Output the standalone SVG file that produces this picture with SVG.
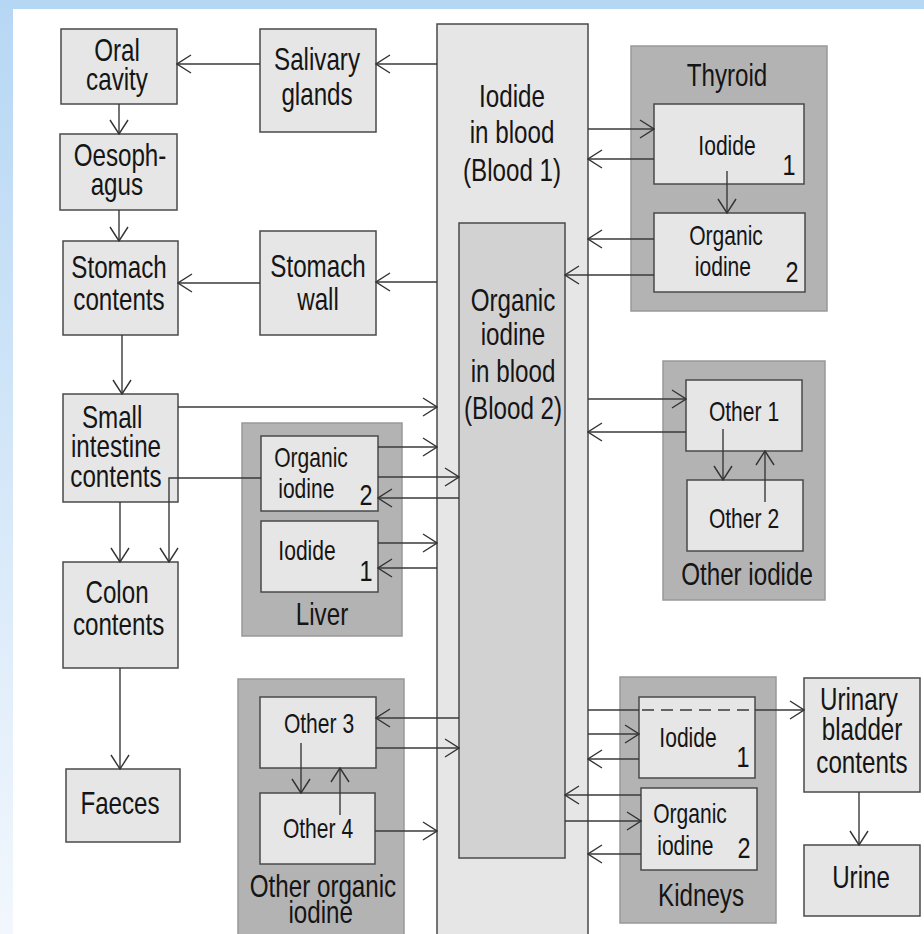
<svg xmlns="http://www.w3.org/2000/svg" width="924" height="934" viewBox="0 0 924 934">
<defs>
<linearGradient id="bg" x1="0" y1="0" x2="0" y2="1">
<stop offset="0" stop-color="#b6d7f4"/>
<stop offset="1" stop-color="#f2f7fd"/>
</linearGradient>
<marker id="a" viewBox="0 0 16 20" refX="15" refY="10" markerWidth="16" markerHeight="20" markerUnits="userSpaceOnUse" orient="auto">
<path d="M1,1 L15,10 L1,19" fill="none" stroke="#333" stroke-width="1.4"/>
</marker>
<style>
.box{fill:#e6e6e6;stroke:#4a4a4a;stroke-width:1.5}
.grp{fill:#b3b3b3;stroke:#999;stroke-width:1.5}
.b2{fill:#d2d2d2;stroke:#4a4a4a;stroke-width:1.5}
text{font-family:"Liberation Sans",Arial,sans-serif;fill:#151515;text-anchor:middle}
.L{font-size:31px}
.M{font-size:27px}
.N{font-size:30px}
.c path{fill:none;stroke:#3a3a3a;stroke-width:1.4}
.c .ar{marker-end:url(#a)}
</style>
</defs>
<rect x="0" y="0" width="924" height="934" fill="url(#bg)"/>
<rect x="13" y="9" width="911" height="925" fill="#fff"/>

<g id="oral-cavity">
<rect class="box" x="61" y="29" width="116" height="75"/>
<text class="L" transform="translate(117,61) scale(.78,1)"><tspan x="0">Oral</tspan><tspan x="0" dy="29">cavity</tspan></text>
</g>
<g id="salivary-glands">
<rect class="box" x="260" y="29" width="116" height="103"/>
<text class="L" transform="translate(317,70) scale(.78,1)"><tspan x="0">Salivary</tspan><tspan x="0" dy="35">glands</tspan></text>
</g>
<g id="oesophagus">
<rect class="box" x="60" y="134" width="117" height="76"/>
<text class="L" transform="translate(120,166) scale(.78,1)"><tspan x="0">Oesoph-</tspan><tspan x="-4" dy="29">agus</tspan></text>
</g>
<g id="stomach-contents">
<rect class="box" x="63" y="241" width="115" height="94"/>
<text class="L" transform="translate(119,278) scale(.78,1)"><tspan x="0">Stomach</tspan><tspan x="0" dy="32">contents</tspan></text>
</g>
<g id="stomach-wall">
<rect class="box" x="260" y="231" width="116" height="104"/>
<text class="L" transform="translate(318,277) scale(.78,1)"><tspan x="0">Stomach</tspan><tspan x="0" dy="33">wall</tspan></text>
</g>
<g id="small-intestine">
<rect class="box" x="63" y="394" width="115" height="108"/>
<text class="L" transform="translate(116,428) scale(.78,1)"><tspan x="-5">Small</tspan><tspan x="0" dy="29">intestine</tspan><tspan x="0" dy="30">contents</tspan></text>
</g>
<g id="colon-contents">
<rect class="box" x="63" y="562" width="115" height="106"/>
<text class="L" transform="translate(117,603) scale(.78,1)"><tspan x="0">Colon</tspan><tspan x="2" dy="32">contents</tspan></text>
</g>
<g id="faeces">
<rect class="box" x="66" y="769" width="114" height="73"/>
<text class="L" transform="translate(120,814) scale(.78,1)">Faeces</text>
</g>

<g id="blood-1">
<rect class="box" x="437" y="24" width="151" height="930"/>
<text class="L" transform="translate(512,107) scale(.78,1)"><tspan x="0">Iodide</tspan><tspan x="0" dy="36">in blood</tspan><tspan x="0" dy="38">(Blood 1)</tspan></text>
</g>
<g id="blood-2">
<rect class="b2" x="459" y="223" width="106" height="635"/>
<text class="L" transform="translate(513,311) scale(.78,1)"><tspan x="0">Organic</tspan><tspan x="0" dy="34">iodine</tspan><tspan x="0" dy="37">in blood</tspan><tspan x="0" dy="37">(Blood 2)</tspan></text>
</g>

<g id="thyroid">
<rect class="grp" x="631" y="46" width="196" height="265"/>
<text class="L" transform="translate(727,86) scale(.78,1)">Thyroid</text>
<g id="thyroid-iodide">
<rect class="box" x="654" y="104" width="150" height="80"/>
<text class="M" transform="translate(727,155) scale(.78,1)">Iodide</text>
<text class="N" transform="translate(789,175) scale(.78,1)">1</text>
</g>
<g id="thyroid-organic">
<rect class="box" x="654" y="213" width="151" height="79"/>
<text class="M" transform="translate(726,245) scale(.78,1)"><tspan x="0">Organic</tspan><tspan x="-4" dy="31">iodine</tspan></text>
<text class="N" transform="translate(792,282) scale(.78,1)">2</text>
</g>
</g>

<g id="other-iodide">
<rect class="grp" x="663" y="361" width="162" height="239"/>
<text class="L" transform="translate(747,585) scale(.78,1)">Other iodide</text>
<g id="other-1">
<rect class="box" x="686" y="380" width="116" height="71"/>
<text class="M" transform="translate(744,421) scale(.78,1)">Other 1</text>
</g>
<g id="other-2">
<rect class="box" x="687" y="480" width="116" height="71"/>
<text class="M" transform="translate(744,528) scale(.78,1)">Other 2</text>
</g>
</g>

<g id="liver">
<rect class="grp" x="242" y="423" width="160" height="213"/>
<text class="L" transform="translate(322,625) scale(.78,1)">Liver</text>
<g id="liver-organic">
<rect class="box" x="261" y="436" width="117" height="75"/>
<text class="M" transform="translate(311,467) scale(.78,1)"><tspan x="0">Organic</tspan><tspan x="-6" dy="31">iodine</tspan></text>
<text class="N" transform="translate(366,505) scale(.78,1)">2</text>
</g>
<g id="liver-iodide">
<rect class="box" x="261" y="521" width="117" height="71"/>
<text class="M" transform="translate(307,560) scale(.78,1)">Iodide</text>
<text class="N" transform="translate(366,581) scale(.78,1)">1</text>
</g>
</g>

<g id="other-organic-iodine">
<rect class="grp" x="238" y="679" width="166" height="270"/>
<text class="L" transform="translate(323,897) scale(.78,1)"><tspan x="0">Other organic</tspan><tspan x="-3" dy="26">iodine</tspan></text>
<g id="other-3">
<rect class="box" x="260" y="697" width="116" height="71"/>
<text class="M" transform="translate(319,733) scale(.78,1)">Other 3</text>
</g>
<g id="other-4">
<rect class="box" x="260" y="793" width="115" height="71"/>
<text class="M" transform="translate(318,838) scale(.78,1)">Other 4</text>
</g>
</g>

<g id="kidneys">
<rect class="grp" x="620" y="677" width="156" height="246"/>
<text class="L" transform="translate(701,906) scale(.78,1)">Kidneys</text>
<g id="kidney-iodide">
<rect class="box" x="639" y="697" width="116" height="81"/>
<text class="M" transform="translate(688,747) scale(.78,1)">Iodide</text>
<text class="N" transform="translate(743,767) scale(.78,1)">1</text>
</g>
<g id="kidney-organic">
<rect class="box" x="641" y="788" width="116" height="82"/>
<text class="M" transform="translate(690,823) scale(.78,1)"><tspan x="0">Organic</tspan><tspan x="-6" dy="32">iodine</tspan></text>
<text class="N" transform="translate(744,858) scale(.78,1)">2</text>
</g>
</g>

<g id="urinary-bladder">
<rect class="box" x="804" y="678" width="116" height="114"/>
<text class="L" transform="translate(862,710) scale(.78,1)"><tspan x="-4">Urinary</tspan><tspan x="0" dy="30">bladder</tspan><tspan x="0" dy="33">contents</tspan></text>
</g>
<g id="urine">
<rect class="box" x="804" y="845" width="116" height="71"/>
<text class="L" transform="translate(861,888) scale(.78,1)">Urine</text>
</g>

<g id="connectors" class="c">
<path class="ar" d="M260,64 H177"/>
<path class="ar" d="M437,64 H376"/>
<path class="ar" d="M119,104 V134"/>
<path class="ar" d="M119,210 V241"/>
<path class="ar" d="M260,283 H178"/>
<path class="ar" d="M437,282 H376"/>
<path class="ar" d="M122,335 V394"/>
<path class="ar" d="M178,407 H437"/>
<path class="ar" d="M120,502 V562"/>
<path class="ar" d="M261,478 H169 V562"/>
<path class="ar" d="M378,447 H437"/>
<path class="ar" d="M378,477 H459"/>
<path class="ar" d="M459,498 H378"/>
<path class="ar" d="M378,543 H437"/>
<path class="ar" d="M437,568 H378"/>
<path class="ar" d="M120,668 V769"/>
<path class="ar" d="M459,718 H376"/>
<path class="ar" d="M376,748 H459"/>
<path class="ar" d="M301,743 V793"/>
<path class="ar" d="M340,815 V768"/>
<path class="ar" d="M375,831 H437"/>
<path class="ar" d="M588,129 H654"/>
<path class="ar" d="M654,159 H588"/>
<path class="ar" d="M727,171 V213"/>
<path class="ar" d="M654,239 H588"/>
<path class="ar" d="M654,275 H565"/>
<path class="ar" d="M588,399 H686"/>
<path class="ar" d="M686,432 H588"/>
<path class="ar" d="M723,429 V480"/>
<path class="ar" d="M765,502 V451"/>
<path class="ar" d="M588,734 H639"/>
<path class="ar" d="M639,759 H588"/>
<path class="ar" d="M641,795 H565"/>
<path class="ar" d="M565,821 H641"/>
<path class="ar" d="M641,854 H588"/>
<path d="M588,710 H639"/>
<path d="M642,710 H755" stroke-dasharray="12,7"/>
<path class="ar" d="M755,710 H804"/>
<path class="ar" d="M859,792 V845"/>
</g>
</svg>
